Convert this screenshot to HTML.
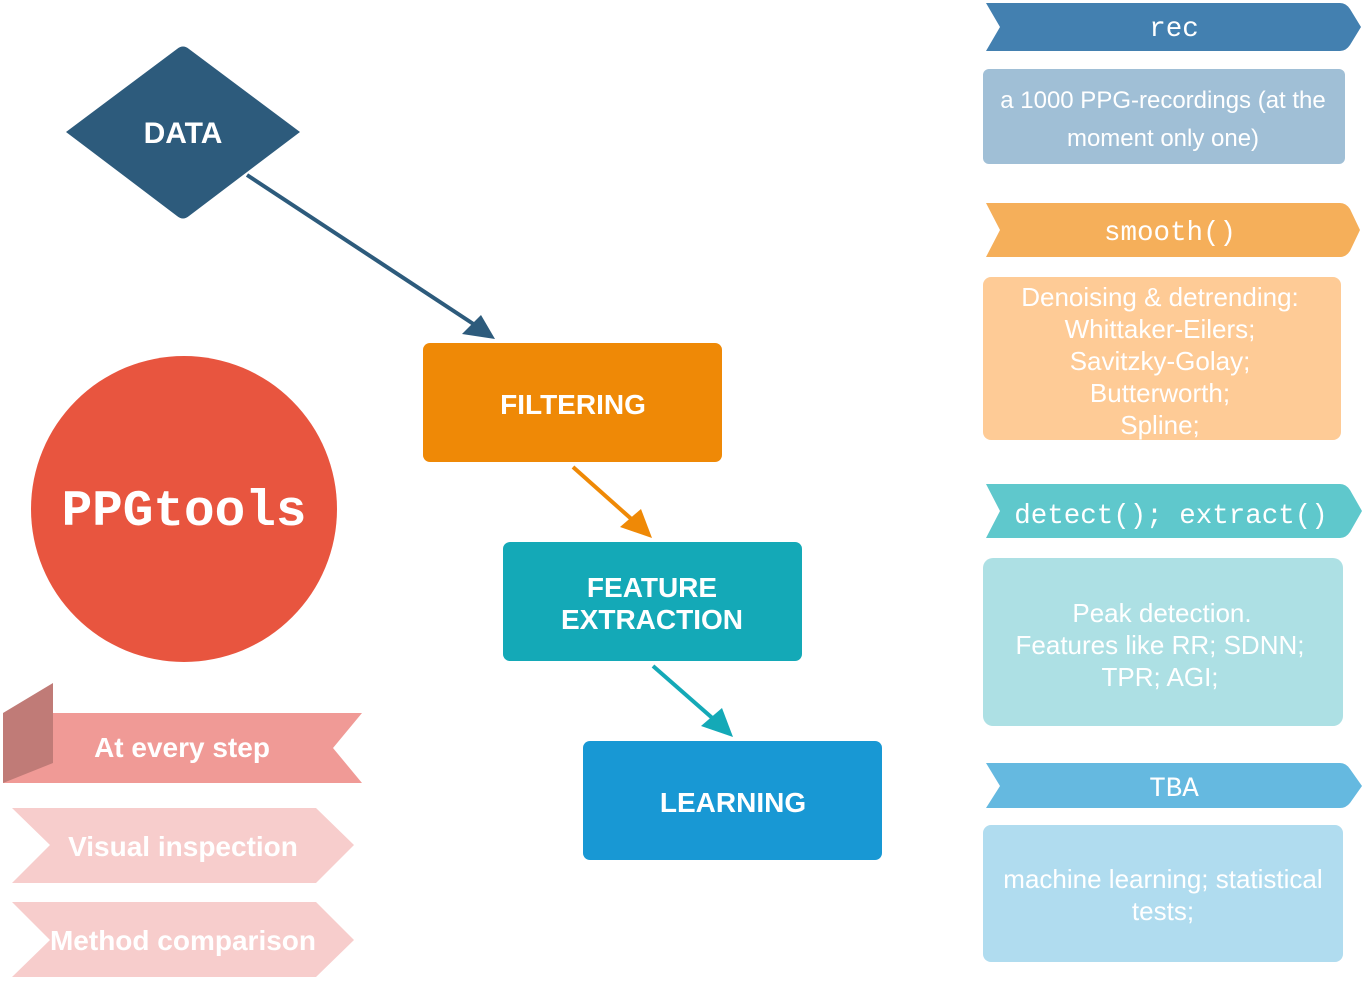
<!DOCTYPE html>
<html><head><meta charset="utf-8"><style>
html,body{margin:0;padding:0;background:#fff;}
svg{display:block;}
.b{font-family:"Liberation Sans",Arial,sans-serif;font-weight:bold;fill:#fff;text-anchor:middle;}
.r{font-family:"Liberation Sans",Arial,sans-serif;fill:#fff;text-anchor:middle;font-size:24px;}
.r2{font-family:"Liberation Sans",Arial,sans-serif;fill:#fff;text-anchor:middle;font-size:26px;}
.m{font-family:"Liberation Mono","Courier New",monospace;fill:#fff;text-anchor:middle;font-size:27.5px;}
</style></head><body>
<svg width="1366" height="1004" viewBox="0 0 1366 1004" xmlns="http://www.w3.org/2000/svg">
<path d="M66,132 L177,49 Q183,44 189,49 L300,132 L189,216 Q183,221 177,216 Z" fill="#2d5b7c"/>
<text class="b" x="183" y="143" font-size="30">DATA</text>
<line x1="247" y1="175" x2="478" y2="327" stroke="#2d5b7c" stroke-width="4"/>
<path d="M495,339 L462,334 L481,315 Z" fill="#2d5b7c"/>
<line x1="573" y1="467" x2="637" y2="524" stroke="#ef8906" stroke-width="4"/>
<path d="M652,538 L620,527 L641,509 Z" fill="#ef8906"/>
<line x1="653" y1="666" x2="718" y2="723" stroke="#14a9b7" stroke-width="4"/>
<path d="M733,737 L701,726 L722,708 Z" fill="#14a9b7"/>
<rect x="423" y="343" width="299" height="119" rx="7" fill="#ef8906"/>
<text class="b" x="573" y="414" font-size="28">FILTERING</text>
<rect x="503" y="542" width="299" height="119" rx="7" fill="#14a9b7"/>
<text class="b" x="652" y="597" font-size="28">FEATURE</text>
<text class="b" x="652" y="629" font-size="28">EXTRACTION</text>
<rect x="583" y="741" width="299" height="119" rx="7" fill="#1898d4"/>
<text class="b" x="733" y="812" font-size="28">LEARNING</text>
<circle cx="184" cy="509" r="153" fill="#e8553f"/>
<text x="184" y="525" text-anchor="middle" font-family="'Liberation Mono','Courier New',monospace" font-weight="bold" font-size="51" fill="#fff">PPGtools</text>
<polygon points="3,713 362,713 333,748 362,783 3,783" fill="#f09a96"/>
<polygon points="3,713 53,683 53,763 3,783" fill="#c07b77"/>
<text class="b" x="182" y="757" font-size="28">At every step</text>
<polygon points="12,808 316,808 354,845 316,883 12,883 50,845" fill="#f7cdcc"/>
<text class="b" x="183" y="856" font-size="28">Visual inspection</text>
<polygon points="12,902 316,902 354,940 316,977 12,977 50,940" fill="#f7cdcc"/>
<text class="b" x="183" y="950" font-size="28">Method comparison</text>
<path d="M986,3 L1340,3 Q1346,3 1350,9 L1361,27 L1350,45 Q1346,51 1340,51 L986,51 L1000,27 Z" fill="#4380b0"/>
<text class="m" x="1174" y="36">rec</text>
<rect x="983" y="69" width="362" height="95" rx="6" fill="#a0bfd6"/>
<text class="r" x="1163" y="108">a 1000 PPG-recordings (at the</text>
<text class="r" x="1163" y="146">moment only one)</text>
<path d="M986,203 L1340,203 Q1346,203 1350,209 L1360,230 L1350,251 Q1346,257 1340,257 L986,257 L1000,230 Z" fill="#f5af5a"/>
<text class="m" x="1170" y="240">smooth()</text>
<rect x="983" y="277" width="358" height="163" rx="8" fill="#fecb96"/>
<text class="r2" x="1160" y="306">Denoising &amp; detrending:</text>
<text class="r2" x="1160" y="338">Whittaker-Eilers;</text>
<text class="r2" x="1160" y="370">Savitzky-Golay;</text>
<text class="r2" x="1160" y="402">Butterworth;</text>
<text class="r2" x="1160" y="434">Spline;</text>
<path d="M986,484 L1340,484 Q1346,484 1350,490 L1362,511 L1350,532 Q1346,538 1340,538 L986,538 L1000,511 Z" fill="#5fc8cc"/>
<text class="m" x="1171" y="523">detect(); extract()</text>
<rect x="983" y="558" width="360" height="168" rx="10" fill="#ade0e4"/>
<text class="r2" x="1162" y="622">Peak detection.</text>
<text class="r2" x="1160" y="654">Features like RR; SDNN;</text>
<text class="r2" x="1160" y="686">TPR; AGI;</text>
<path d="M986,763 L1340,763 Q1346,763 1350,769 L1362,786 L1350,803 Q1346,808 1340,808 L986,808 L1000,786 Z" fill="#65b9e0"/>
<text class="m" x="1174" y="796">TBA</text>
<rect x="983" y="825" width="360" height="137" rx="8" fill="#b0dcef"/>
<text class="r2" x="1163" y="888">machine learning; statistical</text>
<text class="r2" x="1163" y="920">tests;</text>
</svg>
</body></html>
